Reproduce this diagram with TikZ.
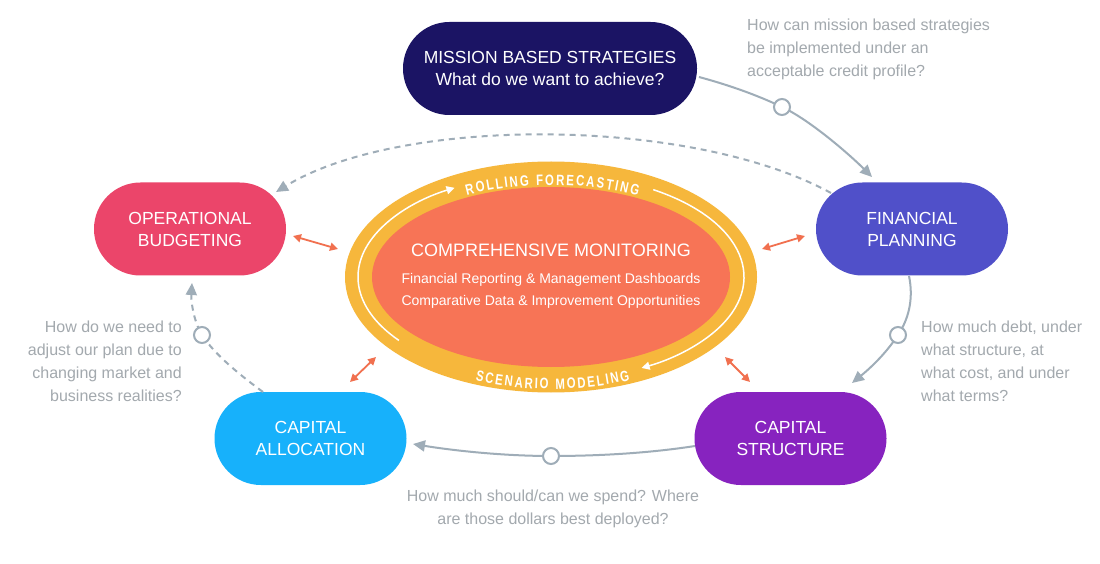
\documentclass[tikz,border=0pt]{standalone}
\usepackage{fontspec}
\setmainfont{Liberation Sans}
\newfontfamily\condfont[FakeStretch=0.76]{Liberation Sans}
\usetikzlibrary{arrows.meta,decorations.text,shapes.geometric}
\definecolor{cMission}{HTML}{1B1464}
\definecolor{cOB}{HTML}{EB456A}
\definecolor{cFP}{HTML}{5050C9}
\definecolor{cCA}{HTML}{17B1FB}
\definecolor{cCS}{HTML}{8723BF}
\definecolor{cYellow}{HTML}{F6B73C}
\definecolor{cOrange}{HTML}{F77456}
\definecolor{cOrArrow}{HTML}{F1704F}
\definecolor{cGray}{HTML}{9FADB8}
\definecolor{cGrayText}{HTML}{A3A9AE}
\begin{document}
\begin{tikzpicture}[x=1pt,y=1pt,
  box/.style={rounded corners=46.4pt, minimum height=93pt, minimum width=192pt, inner sep=0pt,
    text=white, align=center, font=\fontsize{17.5}{22}\selectfont},
  qtext/.style={inner sep=0pt, text=cGrayText, font=\fontsize{16}{23}\selectfont},
  conn/.style={draw=cGray, line width=2pt, -{Triangle[length=12pt,width=11pt]}},
  dconn/.style={conn, dash pattern=on 6pt off 5pt},
  circ/.style={circle, draw=cGray, line width=2pt, fill=white, minimum size=16pt, inner sep=0pt},
  oarr/.style={draw=cOrArrow, line width=1.8pt, {Triangle[length=8pt,width=8pt]}-{Triangle[length=8pt,width=8pt]}},
  warc/.style={draw=white, line width=1.5pt, -{Triangle[length=8pt,width=8pt]}},
  curvtext/.style={decorate, decoration={text along path, text align={fit to path}, text color=white}}
]
\useasboundingbox (0,0) rectangle (1100,563);
\fill[white] (0,0) rectangle (1100,563);

% central ellipse
\node[ellipse, fill=cYellow, minimum width=412pt, minimum height=231pt, inner sep=0pt] (outer) at (551,286) {};
\node[ellipse, fill=cOrange, minimum width=358pt, minimum height=180pt, inner sep=0pt] (inner) at (551,286) {};
\draw[warc] (551,286) ++(218:193pt and 103pt) arc[start angle=218, end angle=120, x radius=193pt, y radius=103pt];
\draw[warc] (551,286) ++(58:193pt and 103pt) arc[start angle=58, end angle=-62, x radius=193pt, y radius=103pt];
\path[curvtext, decoration={text={|\condfont\bfseries\fontsize{15}{15}\selectfont|ROLLING FORECASTING}}]
  (551,286) ++(117.5:182pt and 92pt) arc[start angle=117.5, end angle=61.5, x radius=182pt, y radius=92pt];
\path[curvtext, decoration={text={|\condfont\bfseries\fontsize{15}{15}\selectfont|SCENARIO MODELING}}]
  (551,286) ++(248:202pt and 112pt) arc[start angle=248, end angle=293, x radius=202pt, y radius=112pt];
\node[text=white, font=\fontsize{18}{22}\selectfont, inner sep=0pt] (mon) at (551,313) {COMPREHENSIVE MONITORING};
\node[text=white, font=\fontsize{14}{22}\selectfont, align=center, inner sep=0pt] (monsub) at (551,272)
  {Financial Reporting \& Management Dashboards\\Comparative Data \& Improvement Opportunities};

% boxes
\node[box, fill=cMission, minimum width=294pt] (m) at (550,494.5) {MISSION BASED STRATEGIES\\What do we want to achieve?};
\node[box, fill=cOB] (ob) at (190,334) {OPERATIONAL\\BUDGETING};
\node[box, fill=cFP] (fp) at (912,334) {FINANCIAL\\PLANNING};
\node[box, fill=cCA] (ca) at (310.5,124.5) {CAPITAL\\ALLOCATION};
\node[box, fill=cCS] (cs) at (790.5,124.5) {CAPITAL\\STRUCTURE};

% connector endpoints
\coordinate (a1) at (699,486); \coordinate (b1) at (872,386);
\coordinate (a2) at (909,287); \coordinate (b2) at (852,180);
\coordinate (a3) at (695,117); \coordinate (b3) at (413,119);
\coordinate (a4) at (263,171); \coordinate (b4) at (192,280);
\coordinate (a5) at (831,370); \coordinate (b5) at (276,371);

% connectors
\draw[conn] (a1) .. controls (725,479) and (755,469) .. (782,456) .. controls (810,443) and (850,408) .. (b1);
\node[circ] (c1) at (782,456) {};
\draw[conn] (a2) .. controls (914,263) and (908,243) .. (898,228) .. controls (885,208) and (868,193) .. (b2);
\node[circ] (c2) at (898,228) {};
\draw[conn] (a3) .. controls (650,110) and (600,107) .. (551,107) .. controls (500,107) and (450,113) .. (b3);
\node[circ] (c3) at (551,107) {};
\draw[dconn] (a4) .. controls (240,188) and (215,208) .. (202,228) .. controls (193,243) and (191,263) .. (b4);
\node[circ] (c4) at (202,228) {};
\draw[dconn] (a5) .. controls (690,447) and (400,447) .. (b5);

% orange double arrows
\coordinate (o1a) at (293,327); \coordinate (o1b) at (338,314);
\coordinate (o2a) at (762,314); \coordinate (o2b) at (805,327);
\coordinate (o3a) at (350,181); \coordinate (o3b) at (376,206);
\coordinate (o4a) at (725,206); \coordinate (o4b) at (750,181);
\draw[oarr] (o1a) -- (o1b);
\draw[oarr] (o2a) -- (o2b);
\draw[oarr] (o3a) -- (o3b);
\draw[oarr] (o4a) -- (o4b);

% questions
\node[qtext, anchor=west, align=left] (q1) at (747,514) {How can mission based strategies\\be implemented under an\\acceptable credit profile?};
\node[qtext, anchor=west, align=left] (q2) at (921,201.5) {How much debt, under\\what structure, at\\what cost, and under\\what terms?};
\node[qtext, anchor=east, align=right] (q3) at (182,201.5) {How do we need to\\adjust our plan due to\\changing market and\\business realities?};
\node[qtext, align=center] (q4) at (553,54.5) {How much should/can we spend? Where\\are those dollars best deployed?};
\end{tikzpicture}
\end{document}
